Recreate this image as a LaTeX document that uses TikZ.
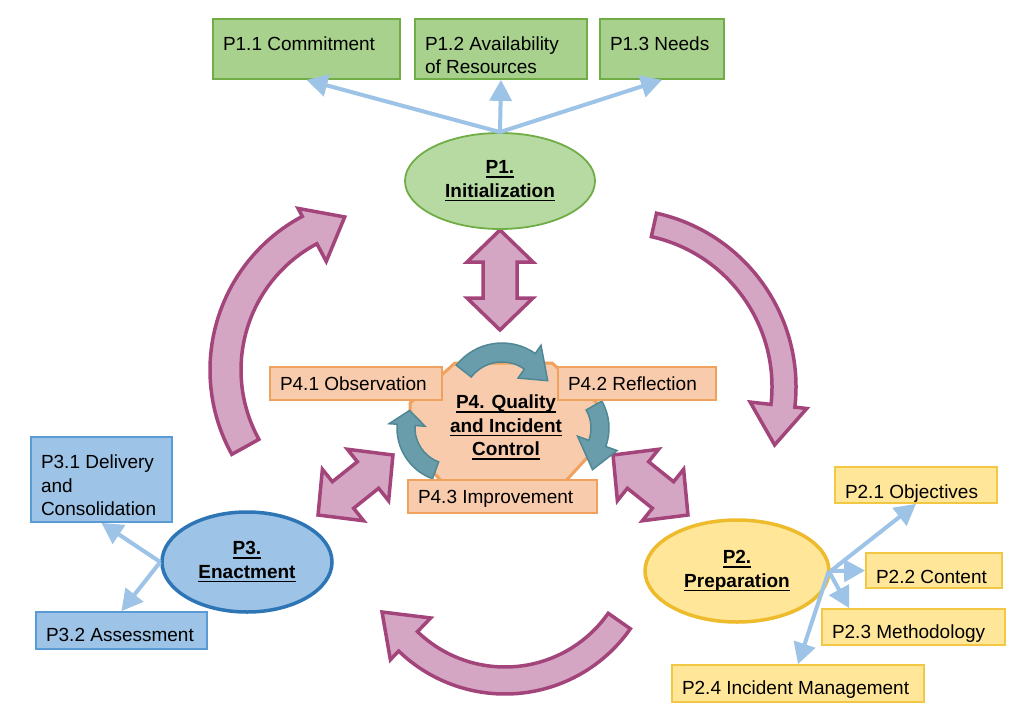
\documentclass[tikz,border=0pt]{standalone}
\usepackage{fontspec}
\setmainfont{Liberation Sans}
\usetikzlibrary{arrows.meta,shapes.geometric}
\definecolor{gfill}{HTML}{A9D18E}
\definecolor{gellfill}{HTML}{B7DAA2}
\definecolor{gline}{HTML}{70AD47}
\definecolor{ofill}{HTML}{F8CBAD}
\definecolor{oline}{HTML}{EFA25E}
\definecolor{bfill}{HTML}{9DC3E6}
\definecolor{bline}{HTML}{5B9BD5}
\definecolor{bellline}{HTML}{2E75B6}
\definecolor{yfill}{HTML}{FFE699}
\definecolor{yline}{HTML}{F2C744}
\definecolor{yellline}{HTML}{EDBB2B}
\definecolor{pfill}{HTML}{D5A6C4}
\definecolor{pline}{HTML}{A3457B}
\definecolor{tfill}{HTML}{6A9DAB}
\definecolor{tline}{HTML}{4F8795}
\definecolor{conncol}{HTML}{9DC3E6}
\newcommand\myul[1]{\setbox0=\hbox{#1}\rlap{\rule[-3.8pt]{\wd0}{1.5pt}}\box0}
\newcommand\bt[4]{\parbox[c][#2pt][t]{#1pt}{\leftskip=10pt\rightskip=0pt plus 1fil\parfillskip=0pt plus 1fil\relax\vspace*{#3pt}\strut#4}}
\newcommand\dblarrow[3]{\draw[bigarrow,shift={#1},rotate=#2] (-#3,0) -- (-#3+32,33) -- (-#3+32,17) -- (#3-32,17) -- (#3-32,33) -- (#3,0) -- (#3-32,-33) -- (#3-32,-17) -- (-#3+32,-17) -- (-#3+32,-33) -- cycle;}
\tikzset{
  txt/.style={font=\fontsize{19}{23.5}\selectfont},
  box/.style={txt, draw, line width=1.8pt, inner sep=0pt},
  gbox/.style={box, fill=gfill, draw=gline},
  obox/.style={box, fill=ofill, draw=oline},
  bbox/.style={box, fill=bfill, draw=bline},
  ybox/.style={box, fill=yfill, draw=yline},
  ell/.style={ellipse, inner sep=0pt, align=center, font=\fontsize{19}{23.5}\selectfont\bfseries},
  bigarrow/.style={fill=pfill, draw=pline, line width=3.5pt},
  tealarrow/.style={fill=tfill, draw=tline, line width=1.5pt},
  conn/.style={draw=conncol, line width=4pt, -{Triangle[length=21pt,width=22pt]}},
}
\begin{document}
\begin{tikzpicture}[x=1pt,y=1pt]
\useasboundingbox (0,0) rectangle (1030,-725);
\fill[white] (0,0) rectangle (1030,-725);

% big purple curved arrows
\draw[bigarrow,shift={(618,-387)}] (77.5:178pt) arc[start angle=77.5,end angle=-6.5,radius=178pt] -- (-6.5:190pt) -- (-20.3:167pt) -- (-6.5:133pt) -- (-6.5:154pt) arc[start angle=-6.5,end angle=77.5,radius=154pt] -- cycle;
\draw[bigarrow,shift={(384,-370)}] (209:174pt) arc[start angle=209,end angle=118,radius=174pt] -- (118:183pt) -- (104.4:158pt) -- (118:123pt) -- (118:143pt) arc[start angle=118,end angle=209,radius=143pt] -- cycle;
\draw[bigarrow,shift={(505,-541)}] (-35:153pt) arc[start angle=-35,end angle=-134,radius=153pt] -- (-134:165pt) -- (-150:142pt) -- (-134:107pt) -- (-134:126pt) arc[start angle=-134,end angle=-35,radius=126pt] -- cycle;

% double arrows
\dblarrow{(500,-280)}{90}{50}
\dblarrow{(355.5,-485)}{38.7}{48}
\dblarrow{(650.5,-485)}{-38.7}{48}

% P4 octagon
\filldraw[fill=ofill, draw=oline, line width=3pt] (455,-363) -- (552,-363) -- (597,-403) -- (597,-447) -- (562,-485) -- (445,-485) -- (410,-447) -- (410,-403) -- cycle;

% teal circular arrows
\draw[tealarrow,shift={(502,-401)}] (142:58pt) arc[start angle=142,end angle=55,radius=58pt] -- (55:68pt) -- (24:50pt) -- (55:28pt) -- (55:39pt) arc[start angle=55,end angle=142,radius=39pt] -- cycle;
\draw[tealarrow,shift={(555,-428)}] (30:54pt) arc[start angle=30,end angle=-20,radius=54pt] -- (-20:66pt) -- (-48:56pt) -- (-20:24pt) -- (-20:36pt) arc[start angle=-20,end angle=30,radius=36pt] -- cycle;
\draw[tealarrow,shift={(451,-428)}] (250:54pt) arc[start angle=250,end angle=176,radius=54pt] -- (176:62pt) -- (157:45pt) -- (176:26pt) -- (176:36pt) arc[start angle=176,end angle=250,radius=36pt] -- cycle;

\node[ell] (p4) at (506,-427.5) {\myul{P4. Quality}\\\myul{and Incident}\\\myul{Control}};

% orange boxes
\node[obox] (p41) at (356,-383.5) {\bt{172}{33}{7}{P4.1 Observation}};
\node[obox] (p42) at (637,-383.5) {\bt{158}{33}{7}{P4.2 Reflection}};
\node[obox] (p43) at (502.5,-496.5) {\bt{189}{33}{7}{P4.3 Improvement}};

% green
\node[gbox] (p11) at (306.5,-49) {\bt{187}{60}{15}{P1.1 Commitment}};
\node[gbox] (p12) at (501,-49) {\bt{172}{60}{15}{P1.2 Availability\\of Resources}};
\node[gbox] (p13) at (662,-49) {\bt{124}{60}{15}{P1.3 Needs}};
\node[ell, fill=gellfill, draw=gline, line width=1.8pt, minimum width=190pt, minimum height=96pt] (p1) at (500,-181) {\myul{P1.}\\\myul{Initialization}};

% blue
\node[bbox] (p31) at (101.5,-479.5) {\bt{141}{85}{15.3}{P3.1 Delivery\\and\\Consolidation}};
\node[bbox] (p32) at (121.5,-630.5) {\bt{171}{37}{13.4}{P3.2 Assessment}};
\node[ell, fill=bfill, draw=bellline, line width=3.5pt, minimum width=170pt, minimum height=100pt] (p3) at (247,-562) {\myul{P3.}\\\myul{Enactment}};

% yellow
\node[ybox] (p21) at (916,-485) {\bt{162}{36}{15}{P2.1 Objectives}};
\node[ybox] (p22) at (934,-570.5) {\bt{136}{35}{14}{P2.2 Content}};
\node[ybox] (p23) at (913.5,-627) {\bt{183}{36}{13.4}{P2.3 Methodology}};
\node[ybox] (p24) at (798,-683.5) {\bt{252}{37}{13.4}{P2.4 Incident Management}};
\node[ell, fill=yfill, draw=yellline, line width=3.5pt, minimum width=184pt, minimum height=102pt] (p2) at (737,-571) {\myul{P2.}\\\myul{Preparation}};

% connectors
\draw[conn] (p1.north) -- (p11.south);
\draw[conn] (p1.north) -- (p12.south);
\draw[conn] (p1.north) -- (p13.south);
\draw[conn] (p3.west) -- (p31.south);
\draw[conn] (p3.west) -- (p32.north);
\draw[conn] (p2.east) -- (p21.south);
\draw[conn] (p2.east) -- (p22.west);
\draw[conn] ([xshift=-2pt]p2.east) -- ([xshift=28pt]p23.north west);
\draw[conn] ([xshift=-2pt]p2.east) -- (p24.north);
\end{tikzpicture}
\end{document}
